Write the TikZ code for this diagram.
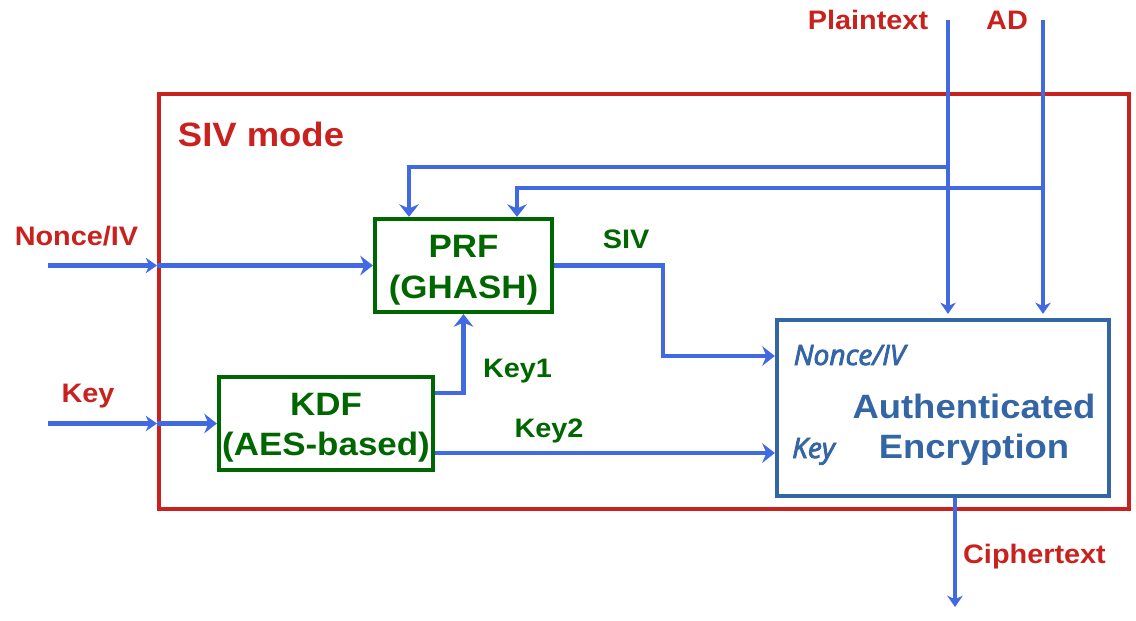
\documentclass[tikz,border=0pt]{standalone}
\usepackage{fontspec}
\setmainfont{Liberation Sans}[FakeStretch=1.08]
\newfontfamily\itfont{Open Sans}[ItalicFeatures={FakeBold=3}]
\usetikzlibrary{arrows.meta}
\definecolor{sivred}{RGB}{201,33,30}
\definecolor{boxgreen}{RGB}{0,102,0}
\definecolor{flowblue}{RGB}{65,105,225}
\definecolor{aeblue}{RGB}{52,101,164}
\tikzset{>={Stealth[length=9pt,width=14pt,inset=3pt]}}
\tikzset{
  flow/.style={->,flowblue,line width=3.3pt},
  smalltip/.style={-{Stealth[length=8pt,width=11pt,inset=2.5pt]}},
  block/.style={draw=boxgreen,line width=3pt,text=boxgreen,inner sep=0pt,
    align=center,minimum height=2.325cm},
  redlabel/.style={anchor=base,text=sivred,font=\fontsize{19}{23}\selectfont\bfseries},
  greenlabel/.style={anchor=base,text=boxgreen,font=\fontsize{19}{23}\selectfont\bfseries},
  aelabel/.style={anchor=base,text=aeblue,font=\itfont\itshape\fontsize{20}{24}\selectfont},
}

\begin{document}
\begin{tikzpicture}[x=0.025cm,y=-0.025cm]
  \useasboundingbox (0,0) rectangle (1136,620);
  % SIV mode frame
  \draw[sivred,line width=3.3pt] (159,94) rectangle (1129,509);
  \node[anchor=base,text=sivred,font=\fontsize{24}{28}\selectfont\bfseries] (sivmode) at (261,146) {SIV mode};
  % blocks
  \node[block,minimum width=4.425cm,font=\fontsize{23}{29}\selectfont\bfseries] (prf) at (463.5,265.5) {\rule{0pt}{22pt}PRF\\(GHASH)};
  \node[block,minimum width=5.35cm,font=\fontsize{23}{28}\selectfont\bfseries] (kdf) at (326,423.5) {\rule{0pt}{22pt}KDF\\(AES-based)};
  \node[draw=aeblue,line width=3pt,minimum width=8.3cm,minimum height=4.4cm] (ae) at (943,408) {};
  \node[text=aeblue,align=center,font=\fontsize{24}{28.5}\selectfont\bfseries] (aetext) at (974,430) {Authenticated\\Encryption};
  \node[aelabel] (aenonce) at (849.5,365) {Nonce/IV};
  \node[aelabel] (aekey) at (813.5,458) {Key};
  % inputs and outputs
  \node[redlabel] (lnonce) at (76.5,245) {Nonce/IV};
  \node[redlabel] (lkey) at (88,402) {Key};
  \node[redlabel] (lplain) at (868,29) {Plaintext};
  \node[redlabel] (lad) at (1007,29) {AD};
  \node[redlabel] (lcipher) at (1034.5,563) {Ciphertext};
  \node[greenlabel] (lsiv) at (626,248) {SIV};
  \node[greenlabel] (lkeyone) at (517.5,377) {Key1};
  \node[greenlabel] (lkeytwo) at (549,437) {Key2};
  % coordinates
  \coordinate (nin) at (48,265.5);
  \coordinate (nmid) at (157,265.5);
  \coordinate (kin) at (48,423.5);
  \coordinate (kmid) at (157,423.5);
  \coordinate (pin) at (948,20);
  \coordinate (adin) at (1043,20);
  \coordinate (pbr) at (948,167);
  \coordinate (pdrop) at (409,167);
  \coordinate (abr) at (1043,188);
  \coordinate (adrop) at (517,188);
  \coordinate (sivc) at (663,356);
  \coordinate (cout) at (955,607);
  % connectors
  \draw[flow,smalltip] (nin) -- (nmid);
  \draw[flow] (nmid) -- (prf.west);
  \draw[flow,smalltip] (kin) -- (kmid);
  \draw[flow] (kmid) -- (kdf.west);
  \draw[flow,smalltip] (pin) -- ([yshift=0.1cm]pin |- ae.north);
  \draw[flow,smalltip] (adin) -- ([yshift=0.1cm]adin |- ae.north);
  \draw[flow] (pbr) -- (pdrop) -- (pdrop |- prf.north);
  \draw[flow] (abr) -- (adrop) -- (adrop |- prf.north);
  \draw[flow] (prf.east) -| (sivc) -- (sivc -| ae.west);
  \draw[flow] ([yshift=0.7625cm]kdf.east) -| (prf.south);
  \draw[flow] ([yshift=-0.7375cm]kdf.east) coordinate (ktwo) -- (ktwo -| ae.west);
  \draw[flow,smalltip] (ae.south -| cout) -- (cout);
\end{tikzpicture}
\end{document}
